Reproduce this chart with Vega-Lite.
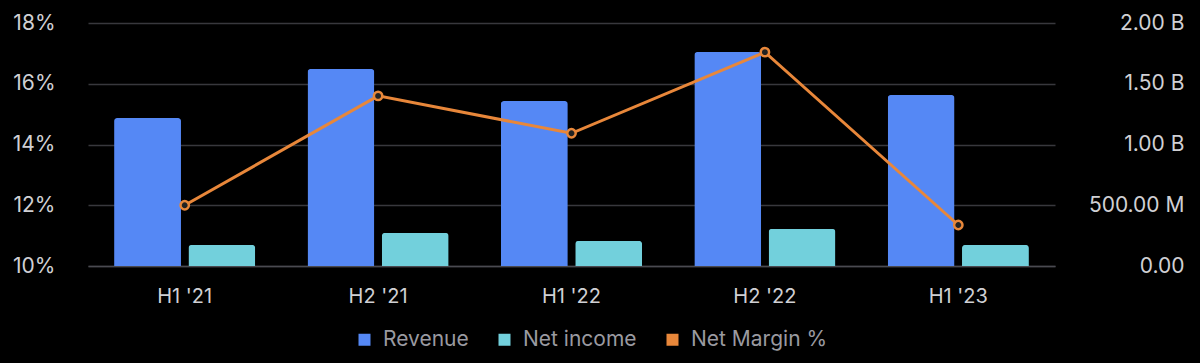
{
  "$schema": "https://vega.github.io/schema/vega-lite/v6.json",
  "autosize": {"type": "none"},
  "width": 967,
  "height": 243,
  "padding": {"left": 88, "top": 23, "right": 145, "bottom": 97},
  "background": "#000000",
  "datasets": {
    "bars": [
      {"period": "H1 '21", "series": "Revenue", "value": 1218000000},
      {"period": "H1 '21", "series": "Net income", "value": 173000000},
      {"period": "H2 '21", "series": "Revenue", "value": 1621000000},
      {"period": "H2 '21", "series": "Net income", "value": 272000000},
      {"period": "H1 '22", "series": "Revenue", "value": 1358000000},
      {"period": "H1 '22", "series": "Net income", "value": 206000000},
      {"period": "H2 '22", "series": "Revenue", "value": 1761000000},
      {"period": "H2 '22", "series": "Net income", "value": 305000000},
      {"period": "H1 '23", "series": "Revenue", "value": 1407000000},
      {"period": "H1 '23", "series": "Net income", "value": 173000000}
    ],
    "margin": [
      {"period": "H1 '21", "margin": 12.0},
      {"period": "H2 '21", "margin": 15.6},
      {"period": "H1 '22", "margin": 14.37},
      {"period": "H2 '22", "margin": 17.04},
      {"period": "H1 '23", "margin": 11.35}
    ]
  },
  "encoding": {
    "x": {
      "field": "period",
      "type": "nominal",
      "sort": null,
      "scale": {"paddingInner": 0.27, "paddingOuter": 0.135},
      "axis": {
        "title": null,
        "labelAngle": 0,
        "ticks": false,
        "domain": true,
        "domainColor": "#4a4a50",
        "domainWidth": 1.5,
        "labelPadding": 20,
        "labelFontSize": 20,
        "labelColor": "#d0d0d4",
        "labelFont": "Inter"
      }
    }
  },
  "layer": [
    {
      "data": {"name": "bars"},
      "mark": {"type": "bar", "cornerRadiusTopLeft": 3, "cornerRadiusTopRight": 3},
      "encoding": {
        "xOffset": {"field": "series", "type": "nominal", "sort": ["Revenue", "Net income"], "scale": {"paddingInner": 0.1}},
        "y": {
          "field": "value",
          "type": "quantitative",
          "scale": {"domain": [0, 2000000000]},
          "axis": {
            "orient": "right",
            "title": null,
            "values": [0, 500000000, 1000000000, 1500000000, 2000000000],
            "labelExpr": "datum.value >= 1e9 ? format(datum.value/1e9, '.2f') + ' B' : (datum.value >= 1e6 ? format(datum.value/1e6, '.2f') + ' M' : format(datum.value, '.2f'))",
            "labelOverlap": false,
            "ticks": false,
            "domain": false,
            "grid": false,
            "labelAlign": "right",
            "labelPadding": 129,
            "labelFontSize": 21,
            "labelColor": "#d0d0d4",
            "labelFont": "Inter"
          }
        },
        "color": {
          "field": "series",
          "type": "nominal",
          "scale": {"domain": ["Revenue", "Net income", "Net Margin %"], "range": ["#5588F5", "#72D0DC", "#E8873A"]},
          "legend": {
            "title": null,
            "orient": "none",
            "legendX": 266,
            "legendY": 306,
            "direction": "horizontal",
            "symbolType": "square",
            "symbolSize": 144,
            "symbolStrokeWidth": 0,
            "labelOffset": 8,
            "labelFontSize": 21,
            "labelColor": "#9a9aa0",
            "labelFont": "Inter",
            "columnPadding": 25
          }
        }
      }
    },
    {
      "data": {"name": "margin"},
      "mark": {"type": "line", "color": "#E8873A", "strokeWidth": 3},
      "encoding": {
        "y": {
          "field": "margin",
          "type": "quantitative",
          "scale": {"domain": [10, 18]},
          "axis": {
            "orient": "left",
            "title": null,
            "values": [10, 12, 14, 16, 18],
            "labelExpr": "datum.value + '%'",
            "labelOverlap": false,
            "ticks": false,
            "domain": false,
            "grid": true,
            "gridColor": "#38383d",
            "gridWidth": 1.5,
            "labelPadding": 33,
            "labelFontSize": 21,
            "labelColor": "#d0d0d4",
            "labelFont": "Inter"
          }
        }
      }
    },
    {
      "data": {"name": "margin"},
      "mark": {"type": "point", "filled": false, "shape": "circle", "size": 70, "strokeWidth": 2.5, "stroke": "#E8873A", "fill": "#222222", "fillOpacity": 1},
      "encoding": {
        "y": {"field": "margin", "type": "quantitative", "scale": {"domain": [10, 18]}, "axis": null}
      }
    }
  ],
  "resolve": {"scale": {"y": "independent"}},
  "config": {"view": {"stroke": null}}
}
